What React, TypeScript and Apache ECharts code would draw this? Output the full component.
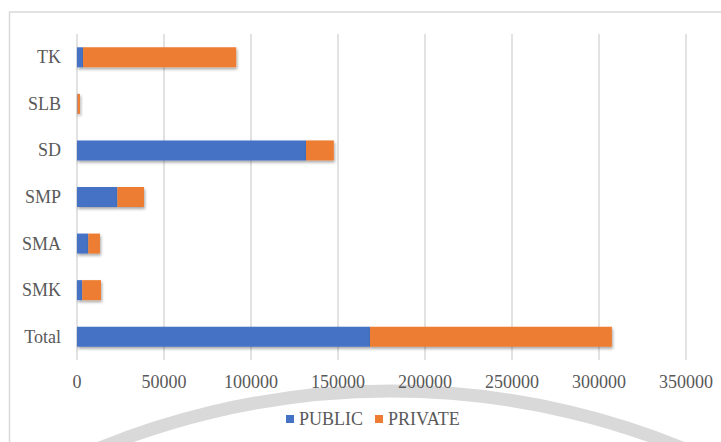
import React, { useEffect, useRef } from "react";
import * as echarts from "echarts";

// Categories listed bottom-to-top (ECharts category y-axis starts at the bottom)
const categories = ["Total", "SMK", "SMA", "SMP", "SD", "SLB", "TK"];
const publicValues = [168400, 3000, 6500, 23200, 131600, 300, 3500];
const privateValues = [139000, 10800, 6700, 15300, 16000, 1400, 88000];
const seriesNames = ["PUBLIC", "PRIVATE"];
const xTicks = { min: 0, max: 350000, interval: 50000 };

const FONT = "Liberation Serif, DejaVu Serif, serif";

export default function App() {
  const ref = useRef<HTMLDivElement>(null);

  useEffect(() => {
    if (!ref.current) return;
    const chart = echarts.init(ref.current, undefined, { renderer: "svg" });
    const barStyle = (color: string) => ({
      color,
      shadowColor: "rgba(0,0,0,0.35)",
      shadowBlur: 3,
      shadowOffsetX: 1,
      shadowOffsetY: 2,
    });
    const labelText = { fontFamily: FONT, fontSize: 18, color: "#595959" };
    chart.setOption({
      animation: false,
      backgroundColor: "#ffffff",
      textStyle: { fontFamily: FONT },
      graphic: [
        {
          type: "arc",
          z: -10,
          silent: true,
          shape: { cx: 391, cy: 1163, r: 772, startAngle: Math.PI * 1.22, endAngle: Math.PI * 1.78 },
          style: { stroke: "#d9d9d9", lineWidth: 13, fill: "none" },
        },
        {
          type: "rect",
          z: 100,
          silent: true,
          shape: { x: 9.5, y: 12, width: 800, height: 600 },
          style: { stroke: "#d9d9d9", lineWidth: 1.5, fill: "none" },
        },
      ],
      grid: { left: 77, right: 35, top: 34, bottom: 82, containLabel: false },
      legend: {
        data: seriesNames,
        left: 281,
        top: 405,
        itemWidth: 8,
        itemHeight: 8,
        itemGap: 12,
        icon: "rect",
        textStyle: labelText,
      },
      xAxis: {
        type: "value",
        min: xTicks.min,
        max: xTicks.max,
        interval: xTicks.interval,
        axisLine: { show: false },
        axisTick: { show: false },
        splitLine: { show: true, lineStyle: { color: "#d9d9d9", width: 1.5 } },
        axisLabel: { ...labelText, margin: 13, formatter: (v: number) => String(v) },
      },
      yAxis: {
        type: "category",
        data: categories,
        axisLine: { show: false },
        axisTick: { show: false },
        axisLabel: { ...labelText, margin: 16 },
      },
      series: [
        {
          name: seriesNames[0],
          type: "bar",
          stack: "total",
          barWidth: 20,
          data: publicValues,
          itemStyle: barStyle("#4472C4"),
        },
        {
          name: seriesNames[1],
          type: "bar",
          stack: "total",
          barWidth: 20,
          data: privateValues,
          itemStyle: barStyle("#ED7D31"),
        },
      ],
    });
    return () => chart.dispose();
  }, []);

  return (
    <div
      ref={ref}
      style={{ position: "absolute", left: 0, top: 0, width: 721, height: 442 }}
    />
  );
}
